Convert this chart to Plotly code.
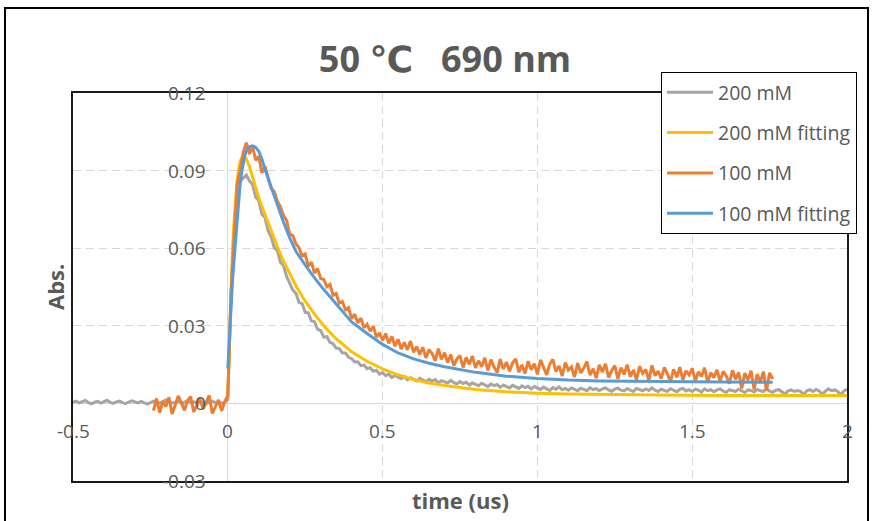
import plotly.graph_objects as go

# ---------------- data (absorbance values in units of 1e-3) ----------------
DT = 0.01
T0_200 = -0.50
T0_100 = -0.24

abs_200mM = [
    0.4, 0.9, 0.2, 0.6, 1.1, 0.3, -0.2, 0.5, 0.8, 0.1, 0.7, 1.2, 0.4, 0.0, 0.6, 0.9, 0.3, -0.1, 0.5, 1.0,
    0.6, 0.2, 0.8, 0.4, -0.3, 0.3, 0.9, 0.5, 0.1, 0.7, 1.3, 0.6, 0.2, 0.4, 0.8, 0.0, 0.5, 1.0, 0.3, 0.6,
    0.2, 0.7, 0.4, -0.1, 0.5, 0.9, 0.3, 0.6, 0.1, 0.4,
    1.5, 41.0, 67.5, 79.8, 85.9, 87.2, 88.3, 86.0, 84.6, 79.8,
    78.4, 73.1, 71.9, 66.8, 64.5, 60.2, 59.1, 54.6, 53.2, 49.1,
    46.6, 43.8, 42.6, 39.1, 38.6, 35.2, 35.0, 31.9, 31.6, 28.7,
    28.1, 25.6, 25.8, 23.6, 23.1, 21.4, 21.2, 19.6, 19.5, 17.8,
    17.3, 16.0, 16.1, 14.6, 14.8, 13.4, 13.8, 12.4, 12.8, 11.3,
    11.9, 10.7, 11.3, 10.0, 10.8, 10.2, 9.5, 10.4, 9.1, 9.9,
    9.4, 8.7, 9.7, 9.0, 8.4, 9.3, 8.6, 9.2, 8.0, 8.8,
    8.3, 7.9, 8.9, 8.0, 7.5, 8.4, 7.7, 8.2, 7.1, 7.9,
    7.4, 6.8, 7.8, 7.0, 6.5, 7.5, 6.9, 7.3, 6.2, 7.1,
    6.6, 6.0, 7.0, 6.4, 5.8, 6.8, 6.1, 6.6, 5.6, 6.5,
    6.0, 5.4, 6.3, 5.7, 5.0, 6.1, 5.5, 6.4, 5.3, 5.8,
    5.1, 6.0, 5.6, 4.9, 5.9, 5.4, 4.9, 6.1, 5.3, 5.7,
    5.0, 5.6, 6.0, 5.2, 4.7, 5.5, 5.9, 5.1, 4.8, 5.7,
    5.3, 4.6, 5.8, 5.4, 4.9, 5.6, 5.0, 6.0, 5.1, 4.6,
    5.5, 5.0, 4.7, 5.7, 5.2, 4.5, 5.4, 5.8, 4.8, 5.3,
    4.6, 5.5, 5.1, 4.4, 5.6, 4.9, 5.3, 4.5, 5.2, 5.6,
    4.7, 4.3, 5.3, 5.0, 4.6, 5.5, 4.8, 4.2, 5.2, 5.0,
    4.4, 5.4, 4.9, 4.6, 5.6, 4.7, 4.3, 5.1, 5.3, 4.5,
    3.6, 4.9, 5.2, 4.6, 5.0, 4.7, 3.4, 4.9, 5.3, 4.6,
    5.4, 4.8, 3.5, 4.7, 5.6, 4.9, 5.2, 4.6, 3.3, 4.8,
    5.4,
]

abs_100mM = [
    -2.8, 1.9, -3.6, 0.8, -1.2, 2.4, -4.1, -0.6, 2.9, 0.3, -2.7, 1.1, 2.6, -3.3, -1.0, 1.8, -2.2, 0.2, 3.1, -3.9,
    -1.5, 1.4, -2.9, 0.6,
    3.0, 41.5, 64.0, 84.5, 90.2, 97.1, 100.8, 96.4, 99.3, 94.0,
    95.6, 89.1, 91.7, 86.8, 83.0, 81.9, 78.2, 76.0, 72.6, 70.8,
    65.3, 64.9, 61.7, 60.2, 57.1, 57.8, 53.0, 54.6, 50.4, 52.1,
    48.3, 47.9, 45.1, 46.0, 41.8, 42.5, 38.7, 39.4, 36.2, 37.0,
    32.8, 34.5, 31.1, 33.0, 29.2, 30.6, 27.9, 29.8, 25.6, 27.3,
    24.4, 27.0, 23.2, 25.9, 22.1, 24.8, 21.0, 23.6, 20.7, 24.1,
    19.8, 22.0, 18.9, 21.7, 17.6, 20.8, 19.3, 16.4, 21.2, 17.0,
    19.6, 15.8, 18.9, 14.6, 17.2, 18.5, 13.9, 17.8, 15.1, 18.3,
    13.7, 16.5, 14.2, 17.6, 12.8, 16.9, 14.0, 11.9, 17.1, 13.3,
    16.0, 12.4, 15.7, 17.2, 12.1, 14.9, 11.6, 16.3, 13.0, 15.4,
    11.2, 16.8, 13.9, 11.0, 15.2, 17.0, 12.3, 14.5, 10.6, 15.8,
    12.9, 14.1, 10.2, 15.6, 11.8, 13.7, 16.2, 10.9, 13.4, 9.8,
    14.9, 12.1, 15.3, 10.0, 12.7, 14.6, 9.5, 13.8, 11.2, 15.0,
    10.4, 12.9, 9.2, 14.3, 11.6, 13.1, 8.8, 14.7, 10.7, 12.5,
    9.6, 13.9, 11.3, 8.4, 13.2, 10.1, 14.0, 9.0, 12.6, 11.0,
    13.5, 8.7, 12.2, 10.4, 13.8, 8.1, 11.9, 9.9, 13.0, 8.5,
    12.4, 10.6, 7.6, 12.8, 9.3, 12.0, 5.8, 11.7, 9.0, 12.6,
    5.4, 11.3, 8.2, 12.3, 4.9, 11.8, 9.5,
]

t_fit_200mM = [0, 0.005, 0.01, 0.015, 0.02, 0.025, 0.03, 0.035, 0.04, 0.045, 0.05, 0.055, 0.06, 0.07,
               0.08, 0.09, 0.10, 0.12, 0.14, 0.16, 0.18, 0.20, 0.22, 0.25, 0.28, 0.31, 0.35, 0.40,
               0.45, 0.50, 0.55, 0.60, 0.65, 0.70, 0.80, 0.90, 1.00, 1.10, 1.20, 1.40, 1.60, 1.80, 2.00]
fit_200mM = [2.0, 24.0, 43.0, 58.0, 70.0, 79.0, 86.0, 90.5, 93.5, 95.0, 95.5, 95.3, 94.5, 91.5,
             87.5, 83.5, 79.5, 73.0, 66.5, 60.5, 55.0, 50.0, 45.5, 39.5, 34.5, 30.0, 25.0, 20.0,
             16.3, 13.3, 11.0, 9.2, 7.9, 6.9, 5.4, 4.5, 3.9, 3.6, 3.4, 3.2, 3.1, 3.1, 3.1]

t_fit_100mM = [0, 0.005, 0.01, 0.015, 0.02, 0.025, 0.03, 0.035, 0.04, 0.045, 0.05, 0.055, 0.06, 0.07,
               0.08, 0.09, 0.10, 0.11, 0.12, 0.14, 0.16, 0.18, 0.20, 0.22, 0.25, 0.28, 0.31, 0.35,
               0.40, 0.45, 0.50, 0.55, 0.60, 0.65, 0.70, 0.80, 0.90, 1.00, 1.10, 1.20, 1.40, 1.60, 1.76]
fit_100mM = [13.5, 26.0, 37.0, 47.0, 55.0, 62.0, 71.5, 79.0, 85.0, 89.5, 93.0, 95.8, 97.7, 99.2,
             99.6, 99.0, 97.5, 94.5, 90.5, 83.5, 76.5, 70.0, 64.0, 58.8, 53.5, 48.5, 44.0, 38.5,
             31.5, 27.0, 22.8, 19.5, 17.2, 15.5, 14.2, 12.0, 10.5, 9.6, 9.0, 8.7, 8.4, 8.3, 8.2]

series_names = ["200 mM", "200 mM fitting", "100 mM", "100 mM fitting"]
series_colors = ["#a5a5a5", "#ffc000", "#ed7d31", "#5b9bd5"]

x_ticks = [-0.5, 0, 0.5, 1, 1.5, 2]
x_tick_labels = ["-0.5", "0", "0.5", "1", "1.5", "2"]
y_ticks = [0.12, 0.09, 0.06, 0.03, 0, -0.03]
y_tick_labels = ["0.12", "0.09", "0.06", "0.03", "0", "-0.03"]

title_text = "50 ℃   690 nm"
x_title = "time (us)"
y_title = "Abs."

# ---------------- figure ----------------
t_200 = [round(T0_200 + i * DT, 3) for i in range(len(abs_200mM))]
t_100 = [round(T0_100 + i * DT, 3) for i in range(len(abs_100mM))]

xs = [t_200, t_fit_200mM, t_100, t_fit_100mM]
ys = [[v / 1000 for v in abs_200mM], [v / 1000 for v in fit_200mM],
      [v / 1000 for v in abs_100mM], [v / 1000 for v in fit_100mM]]

FONT = "Open Sans, Lato, DejaVu Sans, sans-serif"
TXT = "#595959"

fig = go.Figure()
for i, name in enumerate(series_names):
    fig.add_trace(go.Scatter(
        x=xs[i], y=ys[i], mode="lines", name=name, legendgroup=name,
        line=dict(color=series_colors[i], width=3),
    ))

W, H = 872, 521
L, R, T, B = 73, 25, 93, 40
pw, ph = W - L - R, H - T - B


def px_x(px):
    return (px - L) / pw


def px_y(py):
    return (H - B - py) / ph


fig.update_layout(
    width=W, height=H,
    margin=dict(l=L, r=R, t=T, b=B),
    paper_bgcolor="white", plot_bgcolor="white",
    font=dict(family=FONT, color=TXT),
    title=dict(text=title_text, x=px_x(445), xref="paper", xanchor="center",
               y=1 - 59 / H, yref="container", yanchor="middle",
               font=dict(size=36, color=TXT, family=FONT, weight="bold")),
    showlegend=True,
    legend=dict(x=px_x(661), y=px_y(72), xanchor="left", yanchor="top",
                bgcolor="white", bordercolor="#000000", borderwidth=1,
                font=dict(size=19.5, color=TXT, family=FONT),
                tracegroupgap=12, itemwidth=46,
                entrywidth=155, entrywidthmode="pixels"),
)

grid = dict(showgrid=True, gridcolor="#d9d9d9", gridwidth=1.4, griddash="8px,5px",
            zeroline=True, zerolinecolor="#d9d9d9", zerolinewidth=1.4,
            showline=True, linecolor="#1a1a1a", linewidth=1.5, mirror=True,
            showticklabels=False, ticks="")
fig.update_xaxes(range=[-0.5, 2], tickvals=x_ticks, **grid)
fig.update_yaxes(range=[-0.03, 0.12], tickvals=y_ticks, **grid)

# tick labels placed next to the axes that cross at the origin
for xv, lab in zip(x_ticks, x_tick_labels):
    fig.add_annotation(x=xv, y=0, xref="x", yref="y", text=lab, showarrow=False,
                       xanchor="center", yanchor="middle", yshift=-28,
                       font=dict(size=19, color=TXT, family=FONT))
for yv, lab in zip(y_ticks, y_tick_labels):
    fig.add_annotation(x=0, y=yv, xref="x", yref="y", text=lab, showarrow=False,
                       xanchor="right", yanchor="middle", xshift=-20,
                       font=dict(size=19, color=TXT, family=FONT))

# axis titles
fig.add_annotation(x=0.5, y=px_y(500), xref="paper", yref="paper", text=x_title,
                   showarrow=False, xanchor="center", yanchor="middle",
                   font=dict(size=22, color=TXT, family=FONT, weight="bold"))
fig.add_annotation(x=px_x(55), y=0.5, xref="paper", yref="paper", text=y_title,
                   showarrow=False, xanchor="center", yanchor="middle", textangle=-90,
                   font=dict(size=22, color=TXT, family=FONT, weight="bold"))

# outer chart border
fig.add_shape(type="rect", xref="paper", yref="paper",
              x0=px_x(5), x1=px_x(868), y0=px_y(540), y1=px_y(8),
              line=dict(color="#000000", width=2), layer="above")

fig.write_html("out.html")
